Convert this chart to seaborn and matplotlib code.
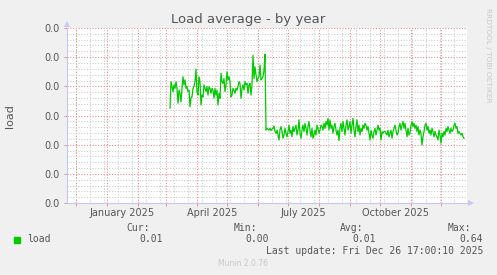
import numpy as np
import pandas as pd
import matplotlib
matplotlib.use("Agg")
import matplotlib.pyplot as plt
import matplotlib.dates as mdates
from matplotlib.ticker import MultipleLocator, FixedLocator, FixedFormatter
from matplotlib.patches import Rectangle
import seaborn as sns

# ---------------- data ----------------
title = "Load average - by year"
series_name = "load"
x_start, x_end = "2024-11-22", "2025-12-27"
first_sample = "2025-03-05"

spring_values = [
    0.325, 0.416, 0.399, 0.382, 0.405, 0.393, 0.416, 0.393, 0.342, 0.387,
    0.376, 0.347, 0.393, 0.433, 0.405, 0.422, 0.393, 0.399, 0.382, 0.387,
    0.330, 0.359, 0.364, 0.393, 0.399, 0.416, 0.459, 0.382, 0.370, 0.433,
    0.416, 0.336, 0.370, 0.364, 0.405, 0.393, 0.382, 0.399, 0.370, 0.399,
    0.393, 0.376, 0.393, 0.387, 0.359, 0.393, 0.370, 0.387, 0.336, 0.376,
    0.359, 0.445, 0.416, 0.410, 0.427, 0.382, 0.405, 0.450, 0.422, 0.433,
    0.416, 0.364, 0.370, 0.393, 0.387, 0.376, 0.393, 0.387, 0.399, 0.416,
    0.410, 0.359, 0.393, 0.405, 0.387, 0.416, 0.405, 0.410, 0.376, 0.405,
    0.410, 0.370, 0.405, 0.507, 0.427, 0.467, 0.439, 0.416, 0.427, 0.433,
    0.473, 0.422, 0.427, 0.433, 0.456, 0.510,
]
summer_values = [
    0.250, 0.256, 0.253, 0.250, 0.256, 0.248, 0.253, 0.256, 0.264, 0.245,
    0.239, 0.250, 0.233, 0.216, 0.250, 0.262, 0.245, 0.222, 0.233, 0.256,
    0.239, 0.227, 0.245, 0.267, 0.239, 0.250, 0.227, 0.262, 0.245, 0.256,
    0.267, 0.233, 0.250, 0.285, 0.239, 0.222, 0.250, 0.267, 0.245, 0.273,
    0.256, 0.233, 0.262, 0.279, 0.250, 0.227, 0.256, 0.222, 0.233, 0.250,
    0.233, 0.267, 0.256, 0.239, 0.250, 0.267, 0.262, 0.250, 0.273, 0.256,
    0.279, 0.267, 0.290, 0.250, 0.285, 0.256, 0.267, 0.239, 0.262, 0.273,
    0.250, 0.233, 0.250, 0.214, 0.256, 0.273, 0.245, 0.279, 0.256, 0.233,
    0.267, 0.285, 0.250, 0.262, 0.279, 0.239, 0.267, 0.290, 0.250, 0.227,
    0.262, 0.285, 0.245, 0.267, 0.233, 0.256, 0.245, 0.267, 0.256, 0.273,
]
autumn_values = [
    0.267, 0.250, 0.262, 0.239, 0.216, 0.250, 0.233, 0.222, 0.245, 0.256,
    0.233, 0.250, 0.267, 0.250, 0.256, 0.216, 0.245, 0.239, 0.245, 0.245,
    0.239, 0.233, 0.250, 0.227, 0.239, 0.250, 0.222, 0.245, 0.256, 0.267,
    0.250, 0.233, 0.239, 0.262, 0.273, 0.250, 0.267, 0.279, 0.256, 0.273,
    0.250, 0.227, 0.256, 0.233, 0.239, 0.267, 0.279, 0.262, 0.273, 0.256,
    0.267, 0.245, 0.262, 0.233, 0.250, 0.239, 0.199, 0.227, 0.245, 0.267,
    0.273, 0.250, 0.262, 0.239, 0.250, 0.233, 0.256, 0.245, 0.227, 0.245,
    0.233, 0.227, 0.216, 0.250, 0.233, 0.205, 0.239, 0.227, 0.245, 0.233,
    0.256, 0.245, 0.262, 0.250, 0.239, 0.256, 0.245, 0.250, 0.267, 0.273,
    0.256, 0.262, 0.239, 0.245, 0.239, 0.233, 0.239, 0.227, 0.222,
]

y_ticks = [0.0, 0.1, 0.2, 0.3, 0.4, 0.5, 0.6]
y_tick_labels = ["0.0", "0.0", "0.0", "0.0", "0.0", "0.0", "0.0"]
x_label_dates = ["2025-01-16", "2025-04-16", "2025-07-16", "2025-10-16"]
x_labels = ["January 2025", "April 2025", "July 2025", "October 2025"]
stat_names = ["Cur:", "Min:", "Avg:", "Max:"]
stat_values = ["0.01", "0.00", "0.01", "0.64"]
last_update = "Last update: Fri Dec 26 17:00:10 2025"
footer = "Munin 2.0.76"
watermark = "RRDTOOL / TOBI OETIKER"

# ---------------- style ----------------
W, H = 497, 275
BG = "#F0F0F0"
TXT = "#555555"
RED = "#E58F8F"
GRAY = "#CDCDCD"
AXC = "#C8C8F5"
GREEN = "#00CC00"
dots = (0, (1, 1.5))
GLW = 0.8

values = spring_values + summer_values + autumn_values
df = pd.DataFrame({
    "date": pd.date_range(first_sample, periods=len(values), freq="D"),
    series_name: values,
})

fig = plt.figure(figsize=(W / 100, H / 100), dpi=100, facecolor=BG)
ax = fig.add_axes([67 / W, 1 - 203 / H, 400 / W, 175 / H])
ax.set_facecolor("white")

sns.lineplot(data=df, x="date", y=series_name, ax=ax, color=GREEN,
             linewidth=0.9, zorder=5, legend=False)

ax.set_xlim(pd.Timestamp(x_start), pd.Timestamp(x_end))
ax.set_ylim(y_ticks[0], y_ticks[-1])
ax.set_xlabel("")
ax.set_ylabel("")

# y axis
ax.yaxis.set_major_locator(FixedLocator(y_ticks))
ax.yaxis.set_major_formatter(FixedFormatter(y_tick_labels))
ax.yaxis.set_minor_locator(MultipleLocator(0.02))
# x axis
ax.xaxis.set_major_locator(FixedLocator(mdates.date2num(pd.to_datetime(x_label_dates))))
ax.xaxis.set_major_formatter(FixedFormatter(x_labels))
ax.xaxis.set_minor_locator(mdates.MonthLocator())

ax.grid(False)
ax.set_axisbelow(True)
biweekly = pd.date_range("2024-12-01", x_end, freq="14D")
ax.vlines(biweekly, y_ticks[0], y_ticks[-1], color=GRAY, linestyle=dots,
          linewidth=GLW, zorder=0.5)
ax.grid(which="minor", axis="y", color=GRAY, linestyle=dots, linewidth=GLW)
ax.grid(which="major", axis="y", color=RED, linestyle=dots, linewidth=GLW)
ax.grid(which="minor", axis="x", color=RED, linestyle=dots, linewidth=GLW)

ax.tick_params(axis="y", which="major", length=2, color=RED, width=0.7,
               labelsize=7, labelcolor=TXT, pad=3)
ax.tick_params(axis="y", which="minor", length=0)
ax.tick_params(axis="x", which="major", length=0, labelsize=7,
               labelcolor=TXT, pad=3.5)
ax.tick_params(axis="x", which="minor", length=2.2, color=RED, width=0.7)

for s in ("top", "right"):
    ax.spines[s].set_visible(False)
for s in ("left", "bottom"):
    ax.spines[s].set_color(AXC)
    ax.spines[s].set_linewidth(0.8)

# axis arrows
ax.plot([0], [1.022], marker="^", markersize=4, color=AXC, transform=ax.transAxes,
        clip_on=False, markeredgewidth=0)
ax.plot([1.009], [0], marker=">", markersize=4, color=AXC, transform=ax.transAxes,
        clip_on=False, markeredgewidth=0)

# titles
fig.text(0.5, 1 - 19 / H, title, ha="center", va="center", fontsize=9.5, color=TXT)
fig.text(10 / W, 1 - 116 / H, series_name, rotation=90, ha="center", va="center",
         fontsize=8, color=TXT)
fig.text(488 / W, 1 - 55 / H, watermark, rotation=270, ha="center", va="center",
         fontsize=5.3, color="#C8C8C8")

# legend / stats
mono = dict(family="DejaVu Sans Mono", fontsize=7, color=TXT)
fig.patches.append(Rectangle((14 / W, 1 - 243 / H), 6 / W, 6 / H,
                             transform=fig.transFigure, color=GREEN))
fig.text(27 / W, 1 - 239.5 / H, series_name, ha="left", va="center", **mono)
name_right = [150, 257, 363, 471]
value_right = [163, 269, 376, 483]
for nm, xr in zip(stat_names, name_right):
    fig.text(xr / W, 1 - 228 / H, nm, ha="right", va="center", **mono)
for v, xr in zip(stat_values, value_right):
    fig.text(xr / W, 1 - 239.5 / H, v, ha="right", va="center", **mono)
fig.text(483 / W, 1 - 251 / H, last_update, ha="right", va="center", **mono)
fig.text(243 / W, 1 - 264 / H, footer, ha="center", va="center",
         fontsize=5.5, color="#C8C8C8")

fig.savefig("out.png", dpi=100, facecolor=BG)
